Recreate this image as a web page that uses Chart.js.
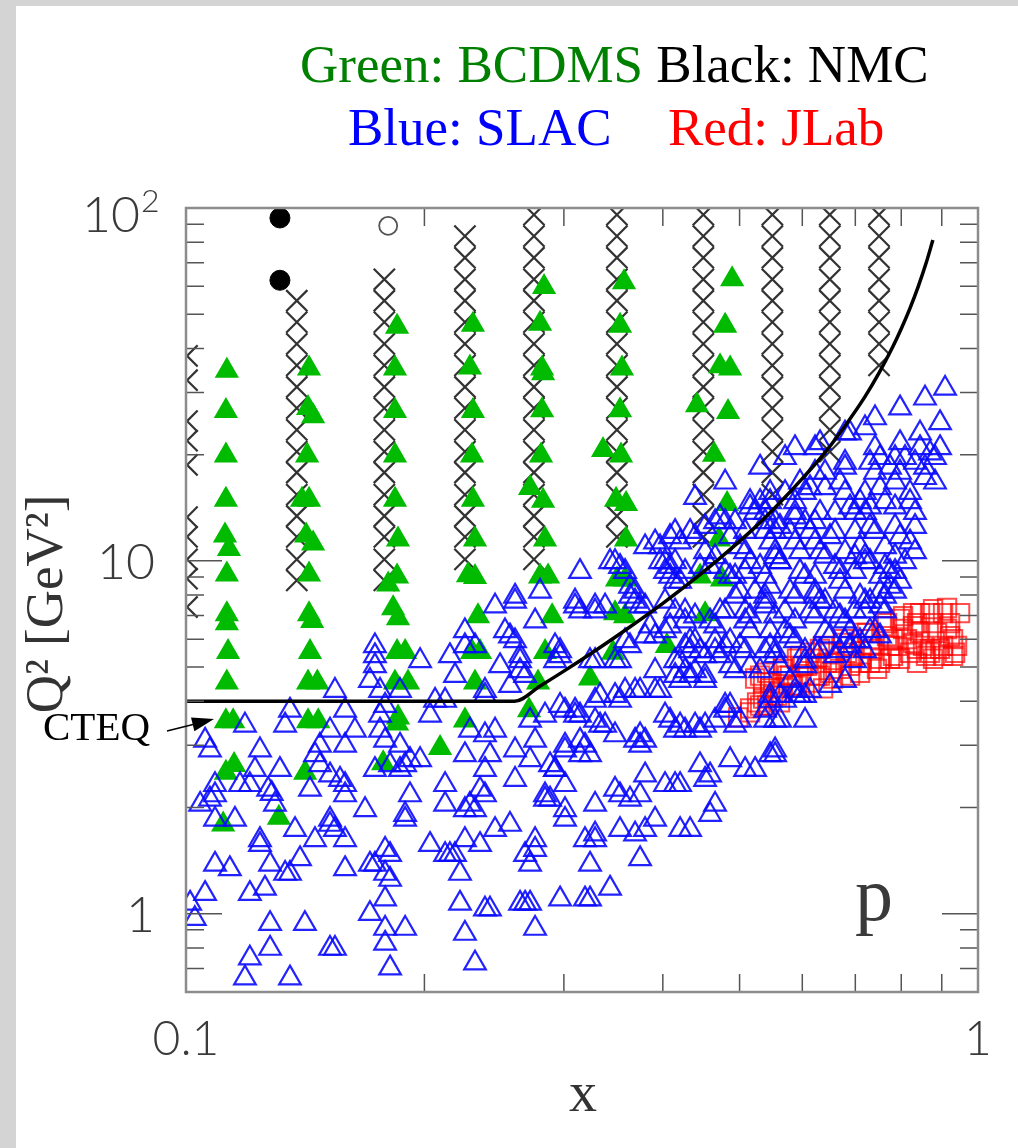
<!DOCTYPE html>
<html>
<head>
<meta charset="utf-8">
<title>Q2 vs x - proton data</title>
<script src="https://cdn.jsdelivr.net/npm/chart.js@4.4.1/dist/chart.umd.min.js"></script>
<style>
  html, body { margin: 0; padding: 0; background: #d6d6d6; }
  #kin { display: block; }
</style>
</head>
<body>
<canvas id="kin" width="1018" height="1148"></canvas>
<script>
// axes
const xRange = [0.1, 1];
const q2Range = [0.628, 100];
const xTickValues = [0.1, 1];
const xTickLabels = ['0.1', '1'];
const xMinorTicks = [0.2, 0.3, 0.4, 0.5, 0.6, 0.7, 0.8, 0.9];
const q2TickValues = [1, 10, 100];
const q2TickLabels = ['1', '10', '10²'];
const q2MinorTicks = [0.7, 0.8, 0.9, 2, 3, 4, 5, 6, 7, 8, 9, 20, 30, 40, 50, 60, 70, 80, 90];

// NMC (black crosses), one Q2 column per x bin
const nmcX = [0.1003, 0.138, 0.178, 0.225, 0.275, 0.35, 0.45, 0.55, 0.65, 0.75];
const nmcQ2 = [
  [38.1, 32.5, 24.9, 21.9, 18.7, 13.3, 11.7, 10.1, 8.9, 7.4],
  [54.6, 47.5, 41.2, 35.8, 31.1, 27.1, 23.5, 20.4, 17.8, 15.4, 13.4, 11.7, 10.1, 8.8],
  [62.8, 54.6, 47.5, 41.2, 35.8, 31.1, 27.1, 23.5, 20.4, 17.8, 15.4, 13.4, 11.7, 10.1, 8.8],
  [83.2, 72.3, 62.8, 54.6, 47.5, 41.2, 35.8, 31.1, 27.1, 23.5, 20.4, 17.8, 15.4, 13.4, 11.7, 10.1],
  [95.7, 83.2, 72.3, 62.8, 54.6, 47.5, 41.2, 35.8, 31.1, 27.1, 23.5, 20.4, 17.8, 15.4, 13.4, 11.7, 10.1],
  [95.7, 83.2, 72.3, 62.8, 54.6, 47.5, 41.2, 35.8, 31.1, 27.1, 23.5, 20.4, 17.8, 15.4, 13.4, 11.7],
  [95.7, 83.2, 72.3, 62.8, 54.6, 47.5, 41.2, 35.8, 31.1, 27.1, 23.5, 20.4, 17.8, 15.4, 13.4, 11.7],
  [95.7, 83.2, 72.3, 62.8, 54.6, 47.5, 41.2, 35.8, 31.1, 27.1, 23.5, 20.4, 17.8, 15.4],
  [95.7, 83.2, 72.3, 62.8, 54.6, 47.5, 41.2, 35.8, 31.1, 27.1, 23.5, 20.4],
  [95.7, 83.2, 72.3, 62.8, 54.6, 47.5, 41.2, 35.8]
];
const nmcDots = [[0.1314, 93.7], [0.1314, 62.4]];
const nmcOpen = [[0.180, 89.0]];

// BCDMS (green filled triangles)
const bcdms = [
  [0.1126,34.6],[0.1123,26.6],[0.1123,19.9],[0.1123,14.9],[0.1120,11.8],[0.1133,10.8],[0.1126,9.15],[0.1126,7.06],[0.1126,6.66],[0.1130,5.52],
  [0.1126,4.52],[0.1123,3.51],[0.1147,3.51],[0.1150,2.64],[0.1123,2.51],[0.1114,1.79],
  [0.1430,35.1],[0.1426,27.1],[0.1447,25.7],[0.1422,19.9],[0.1401,14.9],[0.1430,14.9],[0.1418,11.8],[0.1447,11.2],[0.1430,9.15],[0.1430,7.06],
  [0.1443,6.75],[0.1434,5.52],[0.1426,4.52],[0.1465,4.52],[0.1426,3.51],[0.1469,3.51],[0.1414,2.51],[0.1310,1.87],
  [0.1847,46.1],[0.1836,35.1],[0.1836,26.6],[0.1836,19.9],[0.1836,14.9],[0.1852,11.5],[0.1847,9.03],[0.1800,8.57],[0.1826,7.34],[0.1852,6.88],
  [0.1847,5.52],[0.1891,5.52],[0.1836,4.52],[0.1907,4.52],[0.1852,3.60],[0.1847,3.46],[0.1774,2.67],
  [0.2303,46.7],[0.2283,35.3],[0.2303,26.6],[0.2297,19.9],[0.2303,14.9],[0.2317,11.5],[0.2270,9.10],[0.2317,9.00],[0.2337,6.97],[0.2297,5.52],
  [0.2351,5.52],[0.2317,4.52],[0.2250,3.53],[0.2093,2.95],
  [0.2832,59.7],[0.2799,47.0],[0.2816,35.1],[0.2824,34.0],[0.2816,26.7],[0.2807,19.9],[0.2719,16.1],[0.2824,14.8],[0.2840,11.5],[0.2799,9.03],
  [0.2865,9.03],[0.2899,6.97],[0.2840,5.52],[0.2783,4.52],[0.2711,3.77],[0.3237,4.64],
  [0.3573,61.6],[0.3532,46.4],[0.3552,35.1],[0.3532,26.7],[0.3362,20.6],[0.3542,19.9],[0.3491,14.9],[0.3594,14.5],[0.3594,11.5],[0.3501,8.86],
  [0.3584,8.86],[0.3481,7.11],[0.3584,6.97],[0.3461,5.49],[0.4047,5.74],
  [0.4893,62.8],[0.4794,46.4],[0.4724,35.6],[0.4864,35.1],[0.4418,27.6],[0.4835,26.4],[0.4643,20.0],[0.4821,14.5],[0.4710,11.5],[0.4457,9.03],
  [0.4751,8.86],[0.4523,7.06]
];

// SLAC (blue open triangles), x < 0.34
const slacLow = [
  [0.3144,9.32],[0.2603,7.93],[0.2603,7.68],[0.2456,7.44],[0.2799,8.19],[0.2759,6.75],[0.3099,7.44],[0.3144,7.20],[0.3285,7.20],[0.2250,6.33],
  [0.2528,6.33],[0.2565,6.12],[0.2603,5.93],[0.2250,5.74],[0.2967,5.56],[0.2641,5.38],[0.2641,5.21],[0.3285,5.21],[0.2924,5.21],[0.2154,5.38],
  [0.2317,5.74],[0.1732,5.74],[0.1732,5.38],[0.1732,5.04],[0.1975,5.21],[0.2186,4.73],[0.2492,5.04],[0.2641,4.88],[0.2680,4.73],[0.2565,4.43],
  [0.2385,4.29],[0.1707,4.58],[0.1758,4.29],[0.1863,4.29],[0.1542,4.29],[0.1353,3.77],[0.1588,3.77],[0.1784,3.89],[0.1758,3.65],[0.2033,3.65],
  [0.2063,4.02],[0.2124,4.02],[0.2385,4.15],[0.2719,3.53],[0.2840,3.65],[0.3010,3.77],[0.3099,3.77],[0.3285,4.02],[0.3285,3.53],[0.1187,3.42],
  [0.1334,3.42],[0.1520,3.31],[0.1634,3.31],[0.1476,3.00],[0.1588,3.00],[0.1758,3.31],[0.1784,3.10],[0.1863,3.00],[0.2283,3.31],[0.2385,3.21],
  [0.2456,3.31],[0.2603,2.91],[0.2759,3.10],[0.3010,2.91],[0.3144,3.10],[0.3190,3.00],[0.3237,2.82],[0.1057,3.10],[0.1072,2.91],[0.1240,2.91],
  [0.1455,2.82],[0.1918,2.73],[0.2250,2.82],[0.2420,2.82],[0.2719,2.73],[0.1222,2.56],[0.1314,2.56],[0.1476,2.64],[0.1520,2.47],[0.1565,2.40],
  [0.1588,2.32],[0.1732,2.56],[0.1810,2.64],[0.1863,2.56],[0.1891,2.64],[0.1975,2.73],[0.2385,2.56],[0.2882,2.64],[0.2924,2.56],[0.3010,2.32],
  [0.2603,2.40],[0.2124,2.32],[0.1088,2.32],[0.1170,2.32],[0.1204,2.32],[0.1270,2.25],[0.1283,2.19],[0.1434,2.25],[0.1072,2.11],[0.1088,2.17],
  [0.1588,2.17],[0.1295,2.04],[0.2351,2.25],[0.2385,2.17],[0.2840,2.17],[0.2840,2.11],[0.1918,2.17],[0.1042,2.04],[0.1683,1.97],[0.2124,2.04],
  [0.2250,1.97],[0.2283,2.04],[0.2317,1.97],[0.3285,2.04],[0.3010,1.97],[0.3010,1.85],[0.1891,1.91],[0.1891,1.85],[0.1520,1.85],[0.1520,1.79],
  [0.1542,1.73],[0.1088,1.85],[0.1153,1.85],[0.2456,1.73],[0.2565,1.79],[0.1373,1.73],[0.1240,1.62],[0.1240,1.57],[0.1455,1.62],[0.1588,1.62],
  [0.2759,1.62],[0.2759,1.52],[0.3285,1.68],[0.3285,1.62],[0.3190,1.62],[0.2033,1.57],[0.2124,1.47],[0.2154,1.47],[0.2186,1.47],[0.2351,1.57],
  [0.2250,1.62],[0.1784,1.52],[0.1810,1.47],[0.2680,1.47],[0.1088,1.38],[0.1136,1.34],[0.1277,1.38],[0.1334,1.30],[0.1353,1.30],[0.1393,1.43],
  [0.1588,1.34],[0.1707,1.38],[0.1732,1.38],[0.1784,1.30],[0.2218,1.30],[0.2719,1.38],[0.3237,1.38],[0.1810,1.25],[0.1057,1.14],[0.1012,1.07],
  [0.1026,0.968],[0.1204,1.14],[0.1258,1.18],[0.1784,1.10],[0.2218,1.07],[0.2385,1.03],[0.2420,1.03],[0.2641,1.07],[0.2680,1.07],[0.2719,1.07],
  [0.2967,1.10],[0.3190,1.10],[0.3237,1.10],[0.1707,1.00],[0.1277,0.937],[0.1413,0.937],[0.1784,0.908],[0.1784,0.824],[0.1891,0.908],[0.2250,0.879],
  [0.2759,0.908],[0.1277,0.797],[0.1520,0.797],[0.1542,0.797],[0.1204,0.748],[0.1187,0.657],[0.1353,0.657],[0.1810,0.701],[0.2317,0.724],
  [0.2967,3.89],[0.3099,3.65],[0.3144,3.65],[0.3333,3.42],[0.3010,3.00],[0.3144,2.82],[0.2924,2.56],[0.2882,2.11],[0.3099,7.68],[0.2924,5.74],
  [0.2967,5.38],[0.3237,5.21],[0.3285,7.44],[0.3382,7.44],[0.3333,4.15],[0.3382,3.42],[0.3431,1.18]
];

// SLAC, x > 0.34
const slacHigh = [
  [0.3481,9.94],[0.3532,9.63],[0.3584,9.32],[0.3690,8.19],[0.3636,7.93],[0.3690,7.68],[0.3744,7.44],[0.3799,7.44],[0.3481,5.21],[0.3532,5.21],
  [0.3584,5.93],[0.3636,5.74],[0.3854,6.53],[0.3799,6.12],[0.3911,4.88],[0.4206,5.21],[0.4267,4.88],[0.4267,5.74],[0.4330,5.93],[0.4330,5.56],
  [0.4267,7.20],[0.4393,6.97],[0.4026,7.68],[0.4145,7.20],[0.3968,9.94],[0.4026,9.32],[0.4085,9.63],[0.4206,8.74],[0.4457,9.63],[0.4589,9.63],
  [0.4656,10.26],[0.4794,9.32],[0.4864,9.03],[0.4794,7.20],[0.4935,7.93],[0.4589,6.75],[0.4656,6.53],[0.4457,5.56],[0.4523,5.38],[0.4656,5.56],
  [0.4724,5.38],[0.4206,4.58],[0.4330,4.73],[0.4393,4.88],[0.4523,4.73],[0.4523,4.58],[0.4864,5.04],[0.4935,4.88],[0.4794,5.74],[0.4864,5.93],
  [0.5081,5.56],[0.5081,6.75],[0.5155,6.33],[0.5081,7.20],[0.5155,6.97],[0.5231,8.19],[0.5385,7.93],[0.5385,7.44],[0.5007,8.19],[0.4935,9.03],
  [0.5155,9.94],[0.5307,9.63],[0.5544,10.26],[0.5623,9.94],[0.5960,9.32],[0.6048,9.03],[0.5789,8.19],[0.5874,7.93],[0.5707,7.20],[0.5707,6.33],
  [0.5789,6.12],[0.5464,5.74],[0.5544,5.56],[0.5155,5.04],[0.6136,7.20],[0.6226,8.19],[0.6410,7.68],[0.6599,9.63],[0.6695,9.32],[0.6994,10.26],
  [0.7200,9.94],[0.6794,8.19],[0.7096,7.93],[0.7200,7.68],[0.6599,7.20],[0.7631,9.63],[0.7743,9.32],[0.7972,8.74],[0.7521,8.19],[0.7631,7.93],
  [0.7200,7.20],[0.7413,6.33],[0.7521,6.12],[0.6994,5.93],[0.6794,5.93],[0.6893,5.74],[0.6048,5.21],[0.6226,5.56],[0.6599,5.38],[0.6994,5.21],
  [0.6504,4.43],[0.6794,4.58],[0.6048,5.04],[0.5789,4.58],[0.5874,4.29],[0.6048,4.15],[0.5464,4.02],[0.5623,4.15],[0.5707,4.02],[0.5385,3.53],
  [0.6048,3.53],[0.5007,3.53],[0.4935,3.42],[0.4794,3.77],[0.4523,3.42],[0.4393,3.42],[0.4026,3.65],[0.4085,3.53],[0.4206,3.42],[0.4267,3.31],
  [0.4656,3.53],[0.5385,3.77],[0.5544,3.53],[0.5623,3.53],[0.3481,3.21],[0.3690,3.10],[0.3744,3.00],[0.3799,2.47],[0.4026,2.32],[0.4145,2.32],
  [0.4206,2.32],[0.3481,2.25],[0.3532,2.17],[0.3636,2.11],[0.3744,2.17],[0.4457,2.64],[0.4589,2.47],[0.4523,2.40],[0.4864,2.73],[0.5081,2.56],
  [0.5231,2.56],[0.5464,2.82],[0.5544,2.82],[0.3911,1.85],[0.3532,1.73],[0.3690,1.68],[0.3799,1.73],[0.4206,1.73],[0.4330,1.73],[0.4589,1.91],
  [0.4656,2.04],[0.3744,1.43],
  [0.5385,9.03],[0.5464,8.46],[0.5385,7.68],[0.6226,9.03],[0.6994,9.32],[0.7521,9.03],[0.7857,9.32],[0.7743,8.46],[0.6226,7.93],[0.6317,7.68],
  [0.6695,8.74],[0.7306,7.68],[0.6994,7.20],[0.7521,7.44],[0.7631,7.20],[0.7857,8.19],[0.5544,6.97],[0.5464,6.33],[0.6226,6.97],[0.5874,6.75],
  [0.6695,6.97],[0.6794,6.75],[0.6410,6.33],[0.6504,6.12],[0.5874,5.93],[0.6893,6.33],[0.7306,6.33],[0.7096,5.93],[0.7200,5.56],[0.5385,5.56],
  [0.5544,5.38],[0.6048,5.56],[0.6317,5.56],[0.6695,5.56],[0.5623,5.04],[0.5307,4.88],[0.6136,4.29],[0.5464,4.15],[0.5874,4.15],[0.5960,4.15],
  [0.5544,2.91],
  [0.9087,30.8],[0.8573,28.9],[0.7972,27.1],[0.8955,24.6],[0.8449,23.0],[0.7413,25.4],[0.7200,23.8],[0.7972,21.6],[0.6794,23.0],[0.6893,23.0],
  [0.6317,21.6],[0.6226,20.9],[0.5874,20.9],[0.5707,19.6],[0.5307,18.4],[0.7413,20.9],[0.7521,19.6],[0.8449,20.9],[0.8699,20.2],[0.8826,19.6],
  [0.8955,20.9],[0.8089,19.6],[0.8327,19.0],[0.7857,19.6],[0.7743,18.4],[0.6794,19.0],[0.6794,18.4],[0.6410,17.8],[0.6226,17.8],[0.7306,19.0],
  [0.7413,17.8],[0.7972,17.8],[0.7857,16.7],[0.8573,18.4],[0.8573,17.2],[0.8826,16.7],[0.8207,15.6],[0.8207,14.7],[0.7521,16.1],[0.7631,14.7],
  [0.7200,15.6],[0.7096,14.7],[0.6695,16.7],[0.6794,15.6],[0.6410,16.1],[0.6136,16.1],[0.6048,15.6],[0.5707,15.6],[0.5874,14.7],[0.5464,14.7],
  [0.7857,14.2],[0.8327,13.7],[0.7306,14.2],[0.7200,13.7],[0.6893,14.2],[0.6994,13.7],[0.6599,13.7],[0.6317,13.7],[0.6226,12.9],[0.5874,13.7],
  [0.6048,12.9],[0.5544,12.9],[0.5623,12.5],[0.5385,12.1],[0.8327,12.5],[0.7857,12.5],[0.7972,11.7],[0.7306,12.5],[0.7413,12.1],[0.6994,12.1],
  [0.6599,12.1],[0.6504,11.7],[0.6136,12.1],[0.6226,11.3],[0.5789,12.1],[0.5874,11.3],[0.5464,11.3],[0.5544,10.6],[0.8207,11.3],[0.8327,10.6],
  [0.7631,10.95],[0.7857,10.3],[0.7096,10.95],[0.7200,10.3],[0.6794,10.6],[0.6317,10.6],[0.6410,10.3],[0.5960,10.6],[0.5623,9.94],[0.8089,9.94],
  [0.7306,9.94],[0.4794,16.7],[0.4393,15.1],
  [0.5155,14.2],[0.5231,13.7],[0.4656,12.9],[0.4794,12.9],[0.4935,12.9],[0.4330,12.1],[0.4393,11.7],[0.4145,12.1],[0.4206,11.3],[0.3911,11.3],
  [0.3799,10.95],[0.4523,10.6],[0.5007,10.95],[0.5081,10.6],[0.4026,9.94],[0.4145,9.94],[0.5960,16.7],[0.5464,15.6],[0.5155,14.7],[0.5307,14.7],
  [0.5385,12.9],[0.5544,12.1],[0.5081,12.1],[0.4864,11.7],[0.5874,13.3],[0.5385,13.7],[0.3431,9.94],[0.3968,10.95],[0.4085,11.7],[0.4523,12.5],
  [0.4724,13.3],
  [0.4267,6.75],[0.4724,7.20],[0.4085,6.53],[0.4026,6.33],[0.3911,6.12],[0.4393,5.93],[0.4656,5.93],[0.5007,5.74],[0.4145,5.21],[0.4145,4.73],
  [0.3481,4.15],[0.3532,4.02],[0.3584,4.29],[0.3690,4.29],[0.3744,4.29],[0.3911,4.29],[0.3968,4.29],[0.4145,3.31],[0.4457,3.31],[0.4794,3.89],
  [0.4864,3.89],[0.3744,3.21],[0.3799,3.10],[0.3636,8.46],[0.4085,9.03],[0.4145,8.74],[0.4267,9.32],[0.5081,9.32]
];

// JLab (red open squares)
const jlab = [
  [0.498,3.60],[0.5155,3.82],[0.5307,4.73],[0.5354,4.52],[0.5464,4.35],[0.5576,4.15],[0.5673,4.94],[0.5789,4.73],[0.5908,5.28],[0.6013,5.04],
  [0.6136,5.49],[0.6263,5.28],[0.6373,5.74],[0.6504,5.49],[0.6561,5.14],[0.6754,6.00],[0.6893,5.74],[0.6953,5.38],[0.7158,6.25],[0.7306,6.00],
  [0.7370,5.63],[0.7306,5.14],[0.7587,6.53],[0.7675,6.12],[0.7743,5.74],[0.7811,5.38],[0.7972,6.84],[0.8042,6.41],[0.8136,6.00],[0.8207,5.49],
  [0.8279,7.11],[0.8376,6.66],[0.8449,6.25],[0.8523,5.74],[0.8598,5.38],[0.8699,7.11],[0.8775,6.66],[0.8877,6.25],[0.9034,5.74],[0.9034,7.11],
  [0.9220,6.66],[0.9301,6.00],[0.9355,5.49],[0.9492,7.11],[0.5673,4.35],[0.5908,4.43],[0.6136,4.52],[0.5261,3.97],[0.5417,3.89],[0.6317,4.73],
  [0.6504,4.82],[0.6695,4.94],[0.6893,5.04],[0.7096,4.82],[0.7521,5.14],[0.7743,5.28],[0.7903,5.74],[0.8376,5.63],[0.8699,5.49],[0.8955,5.63],
  [0.9140,6.41],[0.8042,6.97],[0.8449,7.11],[0.8775,7.30],[0.9140,7.35],[0.7675,6.66],[0.8279,6.53],[0.9220,6.12],[0.9410,5.74],[0.9301,5.38],
  [0.7242,6.25],[0.7306,5.74],[0.7811,6.00],[0.8279,5.85],[0.8699,5.63],[0.9034,5.38],[0.6754,5.85],[0.6833,5.49],[0.7096,5.14],[0.7521,5.28],
  [0.7972,5.28],[0.8376,5.14],[0.8775,5.28],[0.6317,5.63],[0.6448,5.14],[0.7456,4.94],[0.5960,5.38],[0.6083,5.04],[0.6263,4.73],[0.6561,4.64],
  [0.6893,4.73],[0.5673,5.04],[0.5740,4.73],[0.5839,4.43],[0.6373,4.35],[0.5417,4.82],[0.5464,4.52],[0.5512,4.15],[0.5623,4.23],[0.5960,4.23],
  [0.5354,4.07],[0.5623,3.97],[0.5307,3.89],[0.5231,4.64],[0.5155,3.72]
];

// CTEQ cut: Q2 > 4 and W2 cut
const cteqCut = [
  [0.1,4.0],[0.26,4.0],[0.28,4.42],[0.30,4.87],[0.33,5.60],[0.36,6.40],[0.40,7.58],[0.44,8.93],[0.48,10.5],[0.52,12.3],
  [0.56,14.5],[0.60,17.1],[0.64,20.2],[0.68,24.2],[0.72,29.2],[0.75,34.1],[0.78,40.3],[0.80,45.5],[0.82,51.8],[0.84,59.7],
  [0.86,69.8],[0.877,81.1]
];

const pts = arr => arr.map(([x, y]) => ({x, y}));
const nmcPts = nmcX.flatMap((x, i) => nmcQ2[i].map(q => ({x, y: q})));

const framePlugin = {
  id: 'frame',
  beforeDraw(chart) {
    const ctx = chart.ctx;
    ctx.save();
    ctx.fillStyle = '#d4d4d4';
    ctx.fillRect(0, 0, chart.width, chart.height);
    ctx.fillStyle = '#ffffff';
    ctx.fillRect(16, 6, chart.width - 16, chart.height - 6);
    ctx.restore();
  },
  afterDatasetsDraw(chart) {
    const {ctx, chartArea: a, scales: {x, y}} = chart;
    ctx.save();
    // inward ticks
    ctx.strokeStyle = '#555';
    ctx.lineWidth = 1.5;
    ctx.beginPath();
    xMinorTicks.forEach(v => {
      const px = x.getPixelForValue(v);
      ctx.moveTo(px, a.bottom); ctx.lineTo(px, a.bottom - 18);
      ctx.moveTo(px, a.top); ctx.lineTo(px, a.top + 18);
    });
    q2MinorTicks.forEach(v => {
      const py = y.getPixelForValue(v);
      ctx.moveTo(a.left, py); ctx.lineTo(a.left + 18, py);
      ctx.moveTo(a.right, py); ctx.lineTo(a.right - 18, py);
    });
    q2TickValues.forEach(v => {
      const py = y.getPixelForValue(v);
      ctx.moveTo(a.left, py); ctx.lineTo(a.left + 36, py);
      ctx.moveTo(a.right, py); ctx.lineTo(a.right - 36, py);
    });
    ctx.stroke();
    ctx.strokeStyle = '#8c8c8c';
    ctx.lineWidth = 2.5;
    ctx.strokeRect(a.left, a.top, a.right - a.left, a.bottom - a.top);

    // tick labels
    ctx.fillStyle = '#3a3a3a';
    ctx.font = '300 48px Lato, "DejaVu Sans", sans-serif';
    ctx.textAlign = 'center';
    ctx.textBaseline = 'middle';
    xTickValues.forEach((v, i) => ctx.fillText(xTickLabels[i], x.getPixelForValue(v), a.bottom + 48));
    ctx.textAlign = 'right';
    q2TickValues.forEach((v, i) => {
      const py = y.getPixelForValue(v);
      const lab = q2TickLabels[i];
      if (lab.endsWith('²')) {
        ctx.font = '300 50px Lato, "DejaVu Sans", sans-serif';
        ctx.fillText(lab.slice(0, -1), a.left - 46, py + 8);
        ctx.font = '300 32px Lato, "DejaVu Sans", sans-serif';
        ctx.textAlign = 'left';
        ctx.fillText('2', a.left - 45, py - 6);
        ctx.textAlign = 'right';
      } else {
        ctx.font = '300 50px Lato, "DejaVu Sans", sans-serif';
        ctx.fillText(lab, a.left - 31, py + 2);
      }
    });
    ctx.restore();
  },
  afterDraw(chart) {
    const ctx = chart.ctx;
    ctx.save();
    // header
    ctx.font = '53px "Liberation Serif", serif';
    ctx.textBaseline = 'alphabetic';
    ctx.textAlign = 'left';
    let t = 'Green: BCDMS ';
    ctx.fillStyle = '#008000';
    ctx.fillText(t, 300, 82);
    ctx.fillStyle = '#000000';
    ctx.fillText('Black: NMC', 300 + ctx.measureText(t).width, 82);
    ctx.fillStyle = '#0000ff';
    ctx.fillText('Blue: SLAC', 348, 145);
    ctx.fillStyle = '#ff0000';
    ctx.fillText('Red: JLab', 668, 145);

    // axis titles
    ctx.fillStyle = '#333';
    ctx.font = '56px "Liberation Serif", serif';
    ctx.textAlign = 'center';
    ctx.fillText('x', 583, 1111);
    ctx.save();
    ctx.translate(48, 604);
    ctx.rotate(-Math.PI / 2);
    ctx.font = '53px "Liberation Serif", serif';
    ctx.textBaseline = 'middle';
    ctx.fillText('Q² [GeV²]', 0, 0);
    ctx.restore();

    // p label
    ctx.font = '76px "Liberation Serif", serif';
    ctx.textAlign = 'left';
    ctx.fillStyle = '#3a3a3a';
    ctx.fillText('p', 855, 920);

    // CTEQ label with arrow
    ctx.fillStyle = '#000';
    ctx.font = '41px "Liberation Serif", serif';
    ctx.fillText('CTEQ', 43, 740);
    ctx.strokeStyle = '#000';
    ctx.lineWidth = 1.5;
    ctx.beginPath();
    ctx.moveTo(167, 731);
    ctx.lineTo(193, 724.4);
    ctx.stroke();
    ctx.beginPath();
    ctx.moveTo(214, 719);
    ctx.lineTo(194.4, 731.2);
    ctx.lineTo(191.0, 717.6);
    ctx.closePath();
    ctx.fill();
    ctx.restore();
  }
};

new Chart(document.getElementById('kin'), {
  type: 'scatter',
  data: {
    datasets: [
      {
        label: 'CTEQ', data: pts(cteqCut), showLine: true, borderColor: '#000', borderWidth: 3.5,
        pointRadius: 0, cubicInterpolationMode: 'monotone', clip: 0
      },
      {
        label: 'SLAC', data: pts(slacLow.concat(slacHigh)), pointStyle: 'triangle', pointRadius: 12.5,
        pointBorderColor: 'rgba(10,10,255,0.9)', pointBackgroundColor: 'rgba(0,0,0,0)', pointBorderWidth: 2.2, clip: 0
      },
      {
        label: 'JLab', data: pts(jlab), pointStyle: 'rect', pointRadius: 13,
        pointBorderColor: 'rgba(255,0,0,0.7)', pointBackgroundColor: 'rgba(0,0,0,0)', pointBorderWidth: 2, clip: 0
      },
      {
        label: 'BCDMS', data: pts(bcdms), pointStyle: 'triangle', pointRadius: 12.5,
        pointBorderColor: '#00bb00', pointBackgroundColor: '#00bb00', pointBorderWidth: 1.5, clip: 0
      },
      {
        label: 'NMC', data: nmcPts, pointStyle: 'crossRot', pointRadius: 15,
        pointBorderColor: '#333', pointBorderWidth: 2.2, clip: 0
      },
      {
        label: 'NMC high Q2', data: pts(nmcDots), pointStyle: 'circle', pointRadius: 10,
        pointBorderColor: '#000', pointBackgroundColor: '#000', pointBorderWidth: 1, clip: 0
      },
      {
        label: 'NMC open', data: pts(nmcOpen), pointStyle: 'circle', pointRadius: 9,
        pointBorderColor: '#555', pointBackgroundColor: '#fff', pointBorderWidth: 1.8, clip: 0
      }
    ]
  },
  options: {
    responsive: false,
    animation: false,
    devicePixelRatio: 1,
    events: [],
    layout: { padding: { left: 186, right: 40, top: 208, bottom: 156 } },
    scales: {
      x: { type: 'logarithmic', min: xRange[0], max: xRange[1], display: false },
      y: { type: 'logarithmic', min: q2Range[0], max: q2Range[1], display: false }
    },
    plugins: { legend: { display: false }, tooltip: { enabled: false } }
  },
  plugins: [framePlugin]
});
</script>
</body>
</html>
